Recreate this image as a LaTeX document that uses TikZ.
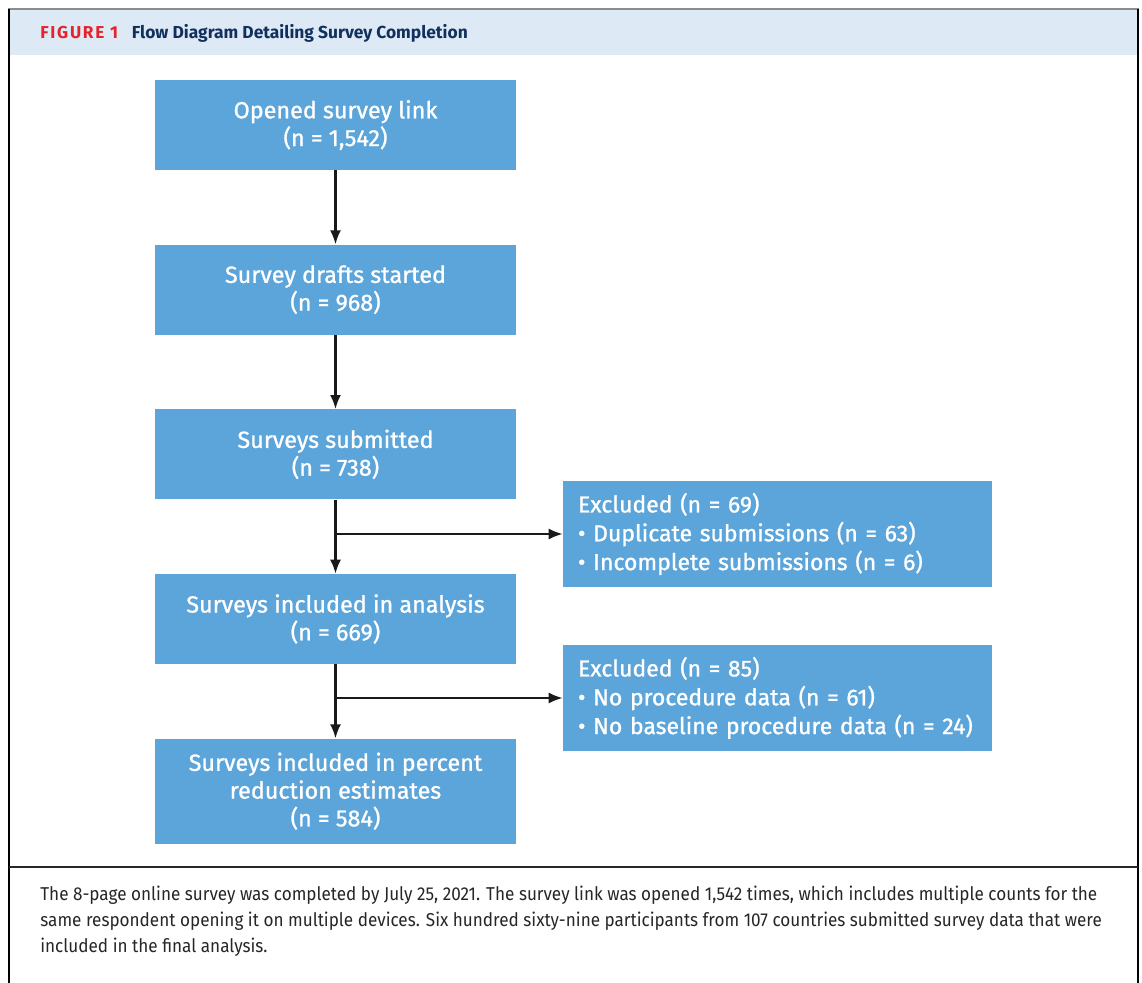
\documentclass[tikz,border=0pt]{standalone}
\usepackage{fontspec}
\setmainfont{Fira Sans}
\newfontfamily\boxfont[FakeBold=1.1]{Fira Sans}
\newfontfamily\capfont[FakeStretch=0.92]{Fira Sans}
\usetikzlibrary{arrows.meta, positioning}
\definecolor{boxblue}{HTML}{5BA5DA}
\definecolor{headband}{HTML}{DDE9F5}
\definecolor{navy}{HTML}{12305E}
\definecolor{figred}{HTML}{E4232D}
\begin{document}
\begin{tikzpicture}[x=0.02cm, y=-0.02cm,
  node distance=1.48cm,
  stage/.style={rectangle, fill=boxblue, text=white, inner sep=0pt,
                minimum width=7.22cm, minimum height=1.8cm,
                align=center, font=\boxfont\fontsize{13.3}{15.8}\selectfont},
  excl/.style={rectangle, fill=boxblue, text=white, inner xsep=0.3cm,
               text width=7.98cm, minimum height=2.12cm,
               align=left, font=\boxfont\fontsize{13.1}{16.4}\selectfont},
  arr/.style={-{Latex[length=0.28cm, width=0.22cm]}, line width=1.2pt, black!90}
]
\useasboundingbox (0,0) rectangle (1142,983);
% frame and header band
\fill[headband] (9,10) rectangle (1137,55);
\draw[black!45, line width=1.2pt] (8,9) -- (1139,9);
\draw[black, line width=1.4pt] (9,9) -- (9,983);
\draw[black, line width=1.4pt] (1138,9) -- (1138,983);
\draw[black!85, line width=1pt] (9,867) -- (1138,867);

\node[anchor=west, inner sep=0pt, text=figred,
      font=\fontsize{9.8}{12}\selectfont\bfseries\addfontfeatures{LetterSpace=10}]
  (figlabel) at (40,33) {FIGURE 1};
\node[right=0.26cm of figlabel, inner sep=0pt, text=navy,
      font=\fontsize{9.9}{12}\selectfont\bfseries]
  (figtitle) {Flow Diagram Detailing Survey Completion};

% main column
\node[stage] (opened) at (335.5,125) {Opened survey link\\(n = 1,542)};
\node[stage, below=of opened] (drafts) {Survey drafts started\\(n = 968)};
\node[stage, below=of drafts] (submitted) {Surveys submitted\\(n = 738)};
\node[stage, below=of submitted] (analysis) {Surveys included in analysis\\(n = 669)};
\node[stage, below=of analysis, minimum height=2.1cm] (reduction)
  {Surveys included in percent\\reduction estimates\\(n = 584)};

% exclusions
\node[excl] (excl1) at (777.5,534)
  {Excluded (n = 69)\\\textbullet\ Duplicate submissions (n = 63)\\\textbullet\ Incomplete submissions (n = 6)};
\node[excl] (excl2) at (777.5,698)
  {Excluded (n = 85)\\\textbullet\ No procedure data (n = 61)\\\textbullet\ No baseline procedure data (n = 24)};

\foreach \a/\b in {opened/drafts, drafts/submitted, submitted/analysis,
                   analysis/reduction}
  \draw[arr] (\a) -- (\b);
\draw[arr] (submitted |- excl1) -- (excl1);
\draw[arr] (analysis |- excl2) -- (excl2);

% caption
\node[anchor=north west, inner sep=0pt, align=left, text=black!85,
      font=\capfont\fontsize{10.6}{14.7}\selectfont] (caption) at (40,886)
  {The 8-page online survey was completed by July 25, 2021. The survey link was opened 1,542 times, which includes multiple counts for the\\
   same respondent opening it on multiple devices. Six hundred sixty-nine participants from 107 countries submitted survey data that were\\
   included in the final analysis.};
\end{tikzpicture}
\end{document}
